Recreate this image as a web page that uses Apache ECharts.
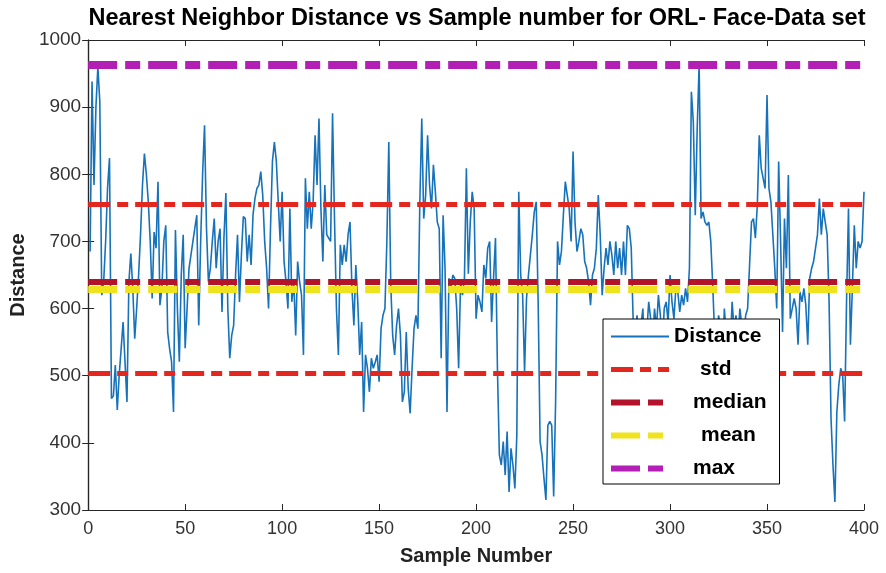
<!DOCTYPE html>
<html>
<head>
<meta charset="utf-8">
<script src="https://cdn.jsdelivr.net/npm/echarts@6/dist/echarts.min.js"></script>
<style>
html,body{margin:0;padding:0;background:#fff;}
#chart{width:886px;height:573px;}
</style>
</head>
<body>
<div id="chart"></div>
<script>
// Nearest neighbor distance for samples 1..400
const distance = [
  685, 938, 784, 900, 960, 908, 620, 640, 700, 780,
  824, 466, 470, 516, 449, 501, 540, 580, 520, 461,
  640, 682, 630, 555, 600, 650, 710, 784, 831, 800,
  759, 700, 615, 714, 690, 789, 605, 630, 700, 724,
  565, 540, 521, 446, 717, 600, 521, 650, 710, 541,
  600, 660, 680, 700, 720, 739, 575, 700, 800, 873,
  720, 640, 660, 700, 734, 660, 700, 719, 595, 705,
  772, 600, 526, 560, 575, 650, 710, 610, 680, 737,
  734, 670, 710, 665, 740, 764, 779, 784, 804, 769,
  700, 660, 600, 719, 819, 848, 820, 759, 700, 774,
  670, 640, 600, 749, 610, 640, 560, 670, 640, 620,
  531, 794, 719, 774, 719, 760, 858, 784, 883, 749,
  670, 784, 710, 705, 700, 891, 734, 600, 531, 695,
  665, 695, 670, 710, 729, 630, 575, 665, 610, 531,
  580, 446, 531, 511, 476, 526, 511, 520, 531, 491,
  570, 590, 600, 700, 848, 635, 560, 531, 575, 600,
  560, 461, 476, 565, 481, 444, 511, 570, 590, 570,
  759, 883, 734, 769, 858, 784, 749, 814, 774, 729,
  719, 526, 739, 660, 446, 645, 630, 650, 645, 600,
  511, 640, 620, 645, 809, 652, 729, 774, 749, 585,
  620, 610, 595, 665, 645, 690, 700, 580, 645, 705,
  511, 382, 367, 402, 352, 417, 327, 392, 367, 332,
  411, 774, 650, 620, 506, 615, 650, 680, 710, 744,
  759, 610, 402, 382, 347, 315, 426, 432, 426, 320,
  461, 700, 665, 685, 739, 789, 769, 749, 700, 834,
  729, 685, 700, 719, 710, 670, 660, 640, 605, 650,
  660, 690, 769, 710, 620, 660, 690, 665, 700, 680,
  650, 700, 660, 690, 650, 700, 650, 724, 719, 690,
  580, 560, 590, 540, 575, 600, 520, 565, 610, 585,
  550, 600, 570, 620, 590, 540, 600, 610, 580, 650,
  610, 585, 630, 625, 595, 620, 605, 630, 610, 660,
  923, 878, 739, 868, 963, 734, 744, 729, 724, 729,
  700, 635, 560, 540, 590, 575, 520, 600, 560, 580,
  540, 610, 570, 590, 550, 600, 575, 560, 590, 600,
  600, 729, 734, 705, 754, 858, 809, 794, 779, 918,
  779, 759, 710, 660, 600, 819, 700, 565, 734, 660,
  799, 585, 600, 615, 600, 546, 625, 610, 630, 605,
  546, 645, 660, 670, 670, 710, 764, 710, 749, 729,
  710, 610, 436, 367, 312, 446, 486, 511, 501, 432,
  610, 749, 546, 630, 724, 660, 700, 690, 700, 774
];
const sampleNumbers = distance.map((_, i) => i + 1);

// Reference lines
const stdLevels = [755, 503];   // mean + std, mean - std
const medianLevel = [640];
const meanLevel = [629];
const maxLevel = [963];

const legendNames = ['Distance', 'std', 'median', 'mean', 'max'];
const xTicks = { min: 0, max: 400, interval: 50 };
const yTicks = { min: 300, max: 1000, interval: 100 };

const FONT = '"Liberation Sans", Arial, Helvetica, sans-serif';
const AXIS_COLOR = '#262626';

const STYLES = {
  Distance: { color: '#1672BA', width: 1.6, type: 'solid' },
  std:      { color: '#E3261E', width: 5, type: [22, 7, 11, 7] },
  median:   { color: '#B3142B', width: 6, type: [29, 8, 15, 8] },
  mean:     { color: '#EEE31C', width: 7, type: [29, 8, 15, 8] },
  max:      { color: '#B31FB4', width: 8, type: [29, 8, 15, 8] }
};
const LEGEND_WIDTH = { Distance: 2, std: 5, median: 6, mean: 6, max: 6 };
const LEGEND_PAD = { Distance: 0, std: 26, median: 19, mean: 27, max: 19 };

const chart = echarts.init(document.getElementById('chart'), null, { renderer: 'canvas' });

function refSeries(name, levels) {
  const s = STYLES[name];
  const ls = { color: s.color, width: s.width, type: s.type, cap: 'butt' };
  return {
    name: name,
    type: 'line',
    data: [],
    symbol: 'none',
    legendIcon: 'none',
    lineStyle: ls,
    itemStyle: { color: s.color },
    silent: true,
    z: 3,
    markLine: {
      silent: true,
      symbol: 'none',
      label: { show: false },
      lineStyle: ls,
      emphasis: { disabled: true },
      animation: false,
      data: levels.map(v => ({ yAxis: v }))
    }
  };
}

const richText = {};
legendNames.forEach((n, i) => {
  richText['r' + i] = { fontFamily: FONT, fontSize: 21, fontWeight: 'bold', color: '#000', padding: [0, 0, 0, LEGEND_PAD[n]] };
});

const option = {
  animation: false,
  backgroundColor: '#ffffff',
  textStyle: { fontFamily: FONT },
  title: {
    text: 'Nearest Neighbor Distance vs Sample number for ORL- Face-Data set',
    left: 472,
    top: 2,
    textAlign: 'center',
    textStyle: { fontFamily: FONT, fontSize: 23.5, fontWeight: 'bold', color: '#000' }
  },
  grid: { left: 88, right: 22, top: 40, bottom: 63, containLabel: false },
  legend: {
    orient: 'vertical',
    left: 603,
    top: 319,
    z: 50,
    zlevel: 1,
    data: legendNames.map(n => ({
      name: n,
      lineStyle: { color: STYLES[n].color, width: LEGEND_WIDTH[n], type: STYLES[n].type, cap: 'butt' },
      itemStyle: { opacity: 0 }
    })),
    backgroundColor: '#ffffff',
    borderColor: '#000',
    borderWidth: 1,
    borderRadius: 0,
    padding: [7, 13, 5, 5],
    itemWidth: 58,
    itemHeight: 20,
    itemGap: 12,
    selectedMode: false,
    itemStyle: { opacity: 0 },
    textStyle: { fontFamily: FONT, fontSize: 21, fontWeight: 'bold', color: '#000', rich: richText },
    formatter: function (name) {
      return '{r' + legendNames.indexOf(name) + '|' + name + '}';
    }
  },
  xAxis: [
    {
      type: 'value', position: 'bottom', min: xTicks.min, max: xTicks.max, interval: xTicks.interval,
      name: 'Sample Number', nameLocation: 'middle', nameGap: 36,
      nameTextStyle: { fontFamily: FONT, fontSize: 20, fontWeight: 'bold', color: '#222' },
      axisLine: { show: true, lineStyle: { color: AXIS_COLOR, width: 1.2 } },
      axisTick: { show: true, inside: true, length: 6, lineStyle: { color: AXIS_COLOR } },
      axisLabel: { fontFamily: FONT, fontSize: 18, color: '#333', margin: 10 },
      splitLine: { show: false }
    },
    {
      type: 'value', position: 'top', min: xTicks.min, max: xTicks.max, interval: xTicks.interval,
      axisLine: { show: true, lineStyle: { color: AXIS_COLOR, width: 1.2 } },
      axisTick: { show: true, inside: true, length: 6, lineStyle: { color: AXIS_COLOR } },
      axisLabel: { show: false },
      splitLine: { show: false }
    }
  ],
  yAxis: [
    {
      type: 'value', position: 'left', min: yTicks.min, max: yTicks.max, interval: yTicks.interval,
      name: 'Distance', nameLocation: 'middle', nameGap: 60,
      nameTextStyle: { fontFamily: FONT, fontSize: 20, fontWeight: 'bold', color: '#222' },
      axisLine: { show: true, lineStyle: { color: AXIS_COLOR, width: 1.2 } },
      axisTick: { show: true, inside: true, length: 6, lineStyle: { color: AXIS_COLOR } },
      axisLabel: { fontFamily: FONT, fontSize: 19, color: '#333', margin: 7, formatter: v => String(v) },
      splitLine: { show: false }
    },
    {
      type: 'value', position: 'right', min: yTicks.min, max: yTicks.max, interval: yTicks.interval,
      axisLine: { show: true, lineStyle: { color: AXIS_COLOR, width: 1.2 } },
      axisTick: { show: true, inside: true, length: 6, lineStyle: { color: AXIS_COLOR } },
      axisLabel: { show: false },
      splitLine: { show: false }
    }
  ],
  series: [
    {
      name: 'Distance',
      type: 'line',
      data: sampleNumbers.map((s, i) => [s, distance[i]]),
      symbol: 'none',
      legendIcon: 'none',
      lineStyle: { color: STYLES.Distance.color, width: STYLES.Distance.width },
      itemStyle: { color: STYLES.Distance.color },
      silent: true,
      z: 2
    },
    refSeries('std', stdLevels),
    refSeries('median', medianLevel),
    refSeries('mean', meanLevel),
    refSeries('max', maxLevel)
  ]
};

chart.setOption(option);
</script>
</body>
</html>
